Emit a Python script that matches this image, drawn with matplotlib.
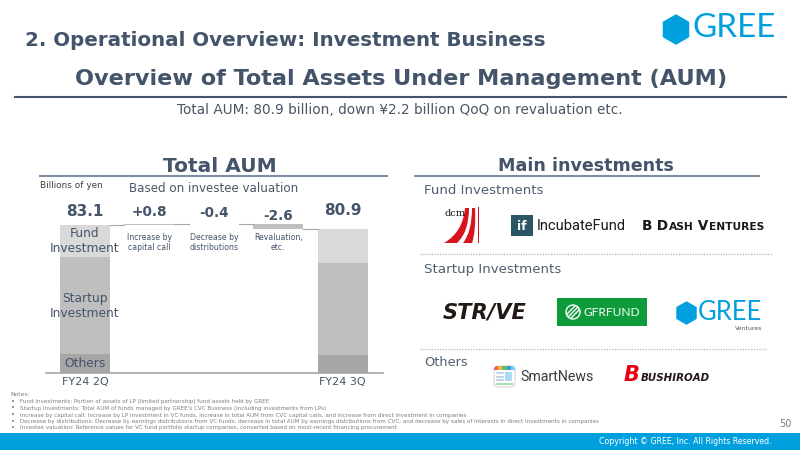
import numpy as np
import matplotlib.pyplot as plt
from matplotlib.patches import Rectangle, RegularPolygon, FancyBboxPatch, Circle, PathPatch
from matplotlib.path import Path

# data (billions of yen)
periods = ['FY24 2Q', 'FY24 3Q']
segments = ['Others', 'Startup\nInvestment', 'Fund\nInvestment']
seg_2q = [10.7, 54.4, 18.0]
seg_3q = [10.1, 51.7, 19.1]
changes = [0.8, -0.4, -2.6]
change_names = ['Increase by\ncapital call', 'Decrease by\ndistributions', 'Revaluation,\netc.']

notes = [
    'Fund Investments: Portion of assets of LP (limited partnership) fund assets held by GREE',
    "Startup Investments: Total AUM of funds managed by GREE's CVC Business (including investments from LPs)",
    'Increase by capital call: Increase by LP investment in VC funds, increase in total AUM from CVC capital calls, and increase from direct investment in companies',
    'Decrease by distributions: Decrease by earnings distributions from VC funds, decrease in total AUM by earnings distributions from CVC, and decrease by sales of interests in direct investments in companies',
    'Investee valuation: Reference values for VC fund portfolio startup companies, converted based on most-recent financing procurement',
]

SLATE = '#44546a'
BLUE = '#00a0de'
seg_colors = ['#a6a6a6', '#bfbfbf', '#d9d9d9']

fig = plt.figure(figsize=(8, 4.5), dpi=100)
R = fig.canvas.get_renderer()

# ---- waterfall chart ----
ax = fig.add_axes([46/800, 77/450, 337/800, 173/450])
ax.set_xlim(-0.606, 4.627)
ax.set_ylim(0, 173/1.781)
for s in ['top', 'left', 'right']:
    ax.spines[s].set_visible(False)
ax.spines['bottom'].set_color('#a6a6a6')
ax.spines['bottom'].set_linewidth(1.2)
ax.set_xticks([])
ax.set_yticks([])
ax.patch.set_alpha(0)

bw = 0.776
for x, vals, name in ((0, seg_2q, periods[0]), (4, seg_3q, periods[1])):
    bottom = 0
    for v, c in zip(vals, seg_colors):
        ax.bar(x, v, bw, bottom=bottom, color=c, linewidth=0)
        bottom += v
    ax.text(x, -5, name, ha='center', va='center', fontsize=8, color=SLATE, clip_on=False)

# labels inside the first bar
bottom = 0
for v, lab in zip(seg_2q, segments):
    ax.text(0, bottom + v/2, lab, ha='center', va='center', fontsize=8.8, color=SLATE)
    bottom += v

total_start = sum(seg_2q)
total_end = sum(seg_3q)
label_pad = [7.3, 6.5, 5.9, 4.7, 10.6]

level = total_start
ax.text(0, level + label_pad[0], f'{total_start:.1f}', ha='center', va='center',
        fontsize=11, fontweight='bold', color=SLATE)
for i, d in enumerate(changes):
    new = level + d
    ax.bar(i + 1, abs(d), bw, bottom=min(level, new), color='#bfbfbf', linewidth=0)
    ax.plot([i + bw/2, i + 1 - bw/2], [level, level], color='#a6a6a6', lw=0.8)
    ax.text(i + 1, max(level, new) + label_pad[i + 1], f'{d:+.1f}', ha='center', va='center',
            fontsize=9.8, fontweight='bold', color=SLATE)
    ax.text(i + 1, 73.3, change_names[i], ha='center', va='center', fontsize=5.6,
            color=SLATE, linespacing=1.1)
    level = new
ax.plot([3 + bw/2, 4 - bw/2], [level, level], color='#a6a6a6', lw=0.8)
ax.text(4, total_end + label_pad[4], f'{total_end:.1f}', ha='center', va='center',
        fontsize=11, fontweight='bold', color=SLATE)

# ---- overlay in pixel coords for the slide stuff ----
ov = fig.add_axes([0, 0, 1, 1], zorder=5)
ov.set_xlim(0, 800)
ov.set_ylim(450, 0)
ov.axis('off')


def fit(t, w):
    t.set_fontsize(t.get_fontsize() * w / t.get_window_extent(R).width)
    return t


def txt(x, y, s, w=None, **kw):
    kw.setdefault('va', 'center')
    kw.setdefault('color', SLATE)
    t = ov.text(x, y, s, **kw)
    if w:
        fit(t, w)
    return t


def run(x, y, pieces, w, **kw):
    ts = [ov.text(x, y, s, fontsize=fs, ha='left', va='baseline', **kw) for s, fs in pieces]
    k = w / sum(t.get_window_extent(R).width for t in ts)
    for t in ts:
        t.set_fontsize(t.get_fontsize() * k)
        t.set_x(x)
        x += t.get_window_extent(R).width


txt(25, 40, '2. Operational Overview: Investment Business', 523, ha='left', fontsize=15, fontweight='bold')

# GREE logo
ov.add_patch(RegularPolygon((676, 29.5), 6, radius=14.5, color=BLUE))
txt(692, 28, 'GREE', 83, ha='left', fontsize=22, color=BLUE, family='Lato')

txt(401, 79, 'Overview of Total Assets Under Management (AUM)', 652, ha='center', fontsize=17, fontweight='bold')
ov.plot([15, 786], [97, 97], color=SLATE, lw=1.5)
txt(400, 110, f'Total AUM: {total_end:.1f} billion, down ¥{total_start - total_end:.1f} billion QoQ on revaluation etc.',
    443, ha='center', fontsize=10, color='#4a5566')

txt(219.5, 166, 'Total AUM', 113, ha='center', fontsize=13, fontweight='bold')
ov.plot([40, 387], [176, 176], color='#7f8ea3', lw=1.5)
txt(585.5, 166, 'Main investments', 175, ha='center', fontsize=13, fontweight='bold')
ov.plot([415, 759], [176, 176], color='#7f8ea3', lw=1.5)

txt(40, 185, 'Billions of yen', 63, ha='left', fontsize=6.5, color='#404040')
txt(213.5, 189, 'Based on investee valuation', 171, ha='center', fontsize=9.5, color='#4a5566')

# right side: main investments
txt(424, 191, 'Fund Investments', 120, ha='left', fontsize=9.5, color='#505f73')

# dcm
ov.add_patch(PathPatch(Path([(465, 208), (469, 208), (469, 232), (457, 243), (444, 243), (463, 232), (465, 208)],
                            [1, 2, 3, 3, 2, 3, 3]), color='#d7141c', lw=0))
ov.add_patch(PathPatch(Path([(472, 208), (475, 208), (476, 232), (472, 243), (463, 243), (472, 232), (472, 208)],
                            [1, 2, 3, 3, 2, 3, 3]), color='#d7141c', lw=0))
ov.add_patch(Rectangle((477.5, 207), 1.8, 36, color='#d7141c', lw=0))
txt(455, 213, 'dcm', ha='center', fontsize=7, color='#111111', family='DejaVu Serif')

# IncubateFund
ov.add_patch(Rectangle((511, 215), 22, 21, color='#2b5664', lw=0))
txt(522, 226, 'if', ha='center', fontsize=9, fontweight='bold', color='white')
txt(537, 226, 'IncubateFund', 89, ha='left', fontsize=10, color='#1a1a1a', family='Roboto')

# B Dash Ventures (fake small caps)
run(642, 230, [('B', 9), (' D', 9), ('ASH', 7), (' V', 9), ('ENTURES', 7)], 122,
    fontweight='bold', color='#1a1a1a')

ov.plot([420, 772], [254, 254], color='#bfbfbf', lw=1, ls=(0, (1, 1)))
txt(424, 270, 'Startup Investments', 138, ha='left', fontsize=9.5, color='#505f73')

txt(443, 312, 'STR/VE', 84, ha='left', fontsize=14, fontweight='bold', style='italic', color='#231815')

# GFR fund
ov.add_patch(Rectangle((557, 298), 90, 28, color='#0e9b3a', lw=0))
circ = Circle((573, 312), 7, fill=False, ec='white', lw=1)
ov.add_patch(circ)
for off in (-4, 0, 4):
    ln, = ov.plot([566 + off, 580 + off], [319, 305], color='white', lw=1)
    ln.set_clip_path(circ)
txt(583, 312, 'GFRFUND', 56, ha='left', fontsize=8, color='white', family='Lato')

# GREE Ventures
ov.add_patch(RegularPolygon((686.5, 313), 6, radius=11, color=BLUE))
txt(698, 312, 'GREE', 64, ha='left', fontsize=18, color=BLUE, family='Lato')
txt(762, 328, 'Ventures', 27, ha='right', fontsize=4, color='#595959')

ov.plot([420, 767], [349, 349], color='#bfbfbf', lw=1, ls=(0, (1, 1)))
txt(424, 362, 'Others', 44, ha='left', fontsize=9.5, color='#505f73')

# SmartNews
icon = FancyBboxPatch((494, 366), 21, 21, boxstyle='round,pad=0,rounding_size=4',
                      fc='white', ec='#d8d8d8', lw=0.8)
ov.add_patch(icon)
for k, c in enumerate(['#f25c54', '#f7b731', '#5cc15c', '#3d9be9', '#6ccff6']):
    r = Rectangle((494 + k * 4.2, 366), 4.2, 4, color=c, lw=0)
    ov.add_patch(r)
    r.set_clip_path(icon)
for yy in (373, 376.5, 380):
    ov.plot([497, 503], [yy, yy], color='#b8cbe0', lw=1.2)
ov.add_patch(Rectangle((505, 372), 7, 9, color='#a9dcf3', lw=0))
ov.plot([497, 512], [384, 384], color='#a8e0b8', lw=1.5)
txt(520, 377, 'SmartNews', 73, ha='left', fontsize=10, color='#3a3a3a', family='Roboto')

# Bushiroad
txt(632, 375, 'B', ha='center', fontsize=15, fontweight='bold', style='italic', color='#e60012')
txt(641, 378, 'BUSHIROAD', 69, ha='left', fontsize=8, fontweight='bold', style='italic', color='#231815')

# notes
txt(10, 395, 'Notes:', ha='left', fontsize=4.3, color='#7f7f7f')
ny = [402, 408.5, 415, 421.5, 428]
ref = ov.text(0, 0, notes[3], fontsize=4.3)
fit(ref, 585)
fs = ref.get_fontsize()
ref.remove()
for y, n in zip(ny, notes):
    txt(11, y, '•', ha='left', fontsize=fs + 1, color='#7f7f7f')
    txt(20, y, n, ha='left', fontsize=fs, color='#7f7f7f')
txt(792, 424, '50', ha='right', fontsize=7, color='#7f7f7f')

# footer
ov.add_patch(Rectangle((0, 433), 800, 17, color=BLUE, lw=0))
txt(772, 442, 'Copyright © GREE, Inc. All Rights Reserved.', 175, ha='right', fontsize=6.5, color='white')

fig.savefig('out.png', dpi=100)
